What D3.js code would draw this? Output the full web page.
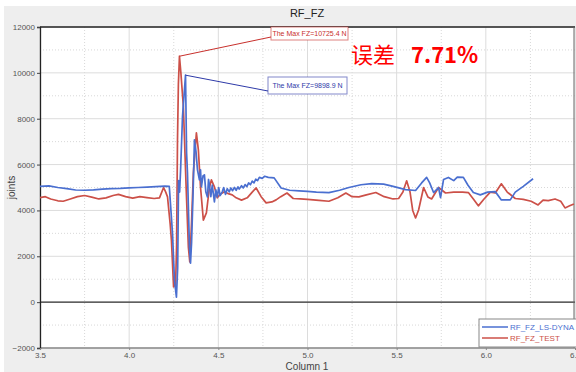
<!DOCTYPE html>
<html><head><meta charset="utf-8">
<script src="https://cdn.jsdelivr.net/npm/d3@7"></script>
<style>body{margin:0;background:#fff}svg{display:block}text{font-family:"Liberation Sans",Arial,sans-serif}</style>
</head><body><svg id="c" width="576" height="372"></svg>
<script>
const chartTitle = "RF_FZ";
const xLabel = "Column 1";
const yLabel = "joints";
const seriesNames = ["RF_FZ_LS-DYNA", "RF_FZ_TEST"];
const xTicks = [3.5, 4.0, 4.5, 5.0, 5.5, 6.0, 6.5];
const yTicks = [-2000, 0, 2000, 4000, 6000, 8000, 10000, 12000];
const maxLabels = ["The Max FZ=9898.9 N", "The Max FZ=10725.4 N"];
const errorWord = "误差";
const errorValue = "7.71%";

const dynaT = [3.50,3.55,3.60,3.65,3.70,3.75,3.80,3.85,3.90,3.95,4.00,4.05,4.10,4.15,4.20,4.225,4.243,4.254,4.265,4.272,4.277,4.283,4.288,4.293,4.299,4.316,4.322,4.327,4.338,4.344,4.350,4.355,4.360,4.366,4.375,4.383,4.394,4.400,4.405,4.414,4.422,4.430,4.439,4.445,4.450,4.458,4.466,4.478,4.486,4.494,4.502,4.510,4.522,4.530,4.540,4.550,4.561,4.570,4.58,4.59,4.60,4.61,4.617,4.63,4.64,4.65,4.66,4.67,4.68,4.69,4.70,4.71,4.72,4.73,4.746,4.76,4.78,4.813,4.852,4.90,4.953,5.00,5.05,5.12,5.18,5.232,5.30,5.36,5.427,5.48,5.55,5.606,5.640,5.668,5.685,5.707,5.735,5.746,5.763,5.79,5.82,5.84,5.874,5.90,5.930,5.969,6.01,6.053,6.087,6.137,6.165,6.21,6.265];
const dynaV = [5050,5070,5000,4950,4890,4880,4900,4930,4950,4960,4980,5000,5020,5040,5060,5050,3000,960,220,1500,5300,4800,5700,6770,8080,9898.9,6500,5630,2400,1700,2600,3900,5200,7080,6550,5770,5330,5770,5030,5500,5550,4800,4590,5350,5110,4600,5100,4370,4900,4590,5000,4650,4810,5000,4700,4950,4810,4980,4860,5000,4880,5030,4930,5080,4980,5130,5040,5200,5120,5280,5200,5360,5300,5440,5400,5490,5440,5420,4980,4880,4850,4830,4800,4780,4880,5000,5120,5170,5150,5050,4910,4870,5200,5440,5200,4780,4990,4560,5350,5440,5300,5450,5440,5100,4780,4680,4800,4820,4460,4460,4800,5050,5380];

const testT = [3.50,3.53,3.56,3.60,3.63,3.67,3.71,3.75,3.79,3.83,3.87,3.91,3.94,3.98,4.02,4.06,4.10,4.14,4.17,4.193,4.205,4.215,4.230,4.237,4.249,4.254,4.260,4.266,4.271,4.276,4.282,4.290,4.304,4.320,4.332,4.340,4.350,4.360,4.377,4.388,4.400,4.416,4.433,4.450,4.461,4.478,4.494,4.510,4.534,4.56,4.578,4.60,4.630,4.662,4.690,4.712,4.740,4.768,4.80,4.824,4.850,4.885,4.92,4.96,5.00,5.064,5.12,5.17,5.215,5.25,5.288,5.33,5.383,5.43,5.48,5.511,5.535,5.556,5.575,5.590,5.606,5.623,5.651,5.675,5.696,5.735,5.774,5.82,5.87,5.902,5.930,5.958,5.99,6.025,6.053,6.087,6.120,6.165,6.21,6.254,6.293,6.321,6.35,6.388,6.420,6.444,6.47,6.494];
const testV = [4560,4600,4500,4420,4400,4500,4600,4650,4580,4500,4550,4650,4700,4600,4540,4600,4560,4520,4550,5000,4800,4590,3400,2700,660,1100,660,2500,7080,9500,10725.4,10000,8520,4890,2400,1750,3500,5640,7385,6640,5030,3580,3890,5000,5330,5030,4550,4700,4810,4720,4680,4550,4450,4550,4800,4980,4600,4330,4370,4460,4600,4760,4520,4500,4480,4440,4400,4550,4760,4600,4590,4680,4780,4600,4500,4520,4800,5290,4800,4000,3670,4020,5000,4590,4500,5000,4760,4800,4800,4780,4500,4200,4500,4800,4760,5160,4800,4520,4480,4400,4240,4450,4430,4500,4400,4110,4200,4280];

const colors = ["#4a6fd0", "#cc5048"];
const annColors = ["#2e3aa8", "#c8302c"];

const svg = d3.select("#c");
const L = 40, R = 575, T = 27, B = 348;
const x = d3.scaleLinear().domain([3.5, 6.5]).range([L, R]);
const y = d3.scaleLinear().domain([-2000, 12000]).range([B, T]);

svg.append("rect").attr("x", 4).attr("y", 6).attr("width", 572).attr("height", 366).attr("fill", "#eeeeee");
svg.append("rect").attr("x", L).attr("y", T).attr("width", R - L).attr("height", B - T).attr("fill", "#ffffff");

// grid
const xMinor = xTicks.slice(0, -1).map(d => d + 0.25);
const yMinor = yTicks.slice(0, -1).map(d => d + 1000);
const g = svg.append("g");
g.selectAll(".xm").data(xMinor).join("line").attr("x1", d => x(d)).attr("x2", d => x(d)).attr("y1", T).attr("y2", B)
  .attr("stroke", "#d8d8d8").attr("stroke-dasharray", "1,2");
g.selectAll(".ym").data(yMinor).join("line").attr("x1", L).attr("x2", R).attr("y1", d => y(d)).attr("y2", d => y(d))
  .attr("stroke", "#d8d8d8").attr("stroke-dasharray", "1,2");
g.selectAll(".xM").data(xTicks).join("line").attr("x1", d => x(d)).attr("x2", d => x(d)).attr("y1", T).attr("y2", B)
  .attr("stroke", "#dcdcdc");
g.selectAll(".yM").data(yTicks).join("line").attr("x1", L).attr("x2", R).attr("y1", d => y(d)).attr("y2", d => y(d))
  .attr("stroke", "#dcdcdc");

// zero line
svg.append("line").attr("x1", L).attr("x2", R).attr("y1", y(0)).attr("y2", y(0)).attr("stroke", "#333").attr("stroke-width", 1.2);

// frame
svg.append("line").attr("x1", L).attr("x2", R).attr("y1", T).attr("y2", T).attr("stroke", "#222").attr("stroke-width", 1.3);
svg.append("line").attr("x1", R - 1).attr("x2", R - 1).attr("y1", T).attr("y2", B).attr("stroke", "#666");
svg.append("line").attr("x1", L).attr("x2", R).attr("y1", B).attr("y2", B).attr("stroke", "#888").attr("stroke-width", 1.5);

// axes
const ya = svg.append("g").attr("transform", `translate(${L},0)`)
  .call(d3.axisLeft(y).tickValues(yTicks).tickSize(3).tickPadding(2).tickFormat(d3.format("d")));
ya.select(".domain").attr("stroke", "#222").attr("stroke-width", 1.3);
ya.selectAll("text").attr("font-size", 8).attr("fill", "#555");
ya.selectAll(".tick line").attr("stroke", "#444");
const xa = svg.append("g").attr("transform", `translate(0,${B})`)
  .call(d3.axisBottom(x).tickValues(xTicks).tickSize(2).tickPadding(2).tickFormat(d3.format(".1f")));
xa.select(".domain").remove();
xa.selectAll("text").attr("font-size", 8).attr("fill", "#555");
xa.selectAll(".tick line").attr("stroke", "#888");

// series
const line = d3.line().x(d => x(d[0])).y(d => y(d[1]));
const dyna = dynaT.map((t, i) => [t, dynaV[i]]);
const test = testT.map((t, i) => [t, testV[i]]);
svg.append("path").datum(test).attr("d", line).attr("fill", "none").attr("stroke", colors[1]).attr("stroke-width", 1.7).attr("stroke-linejoin", "round");
svg.append("path").datum(dyna).attr("d", line).attr("fill", "none").attr("stroke", colors[0]).attr("stroke-width", 1.7).attr("stroke-linejoin", "round");

// annotations
const maxD = dyna.reduce((a, b) => b[1] > a[1] ? b : a);
const maxT = test.reduce((a, b) => b[1] > a[1] ? b : a);
const boxes = [
  {p: maxD, bx: 268, by: 77, bw: 79, bh: 17, c: annColors[0], txt: maxLabels[0]},
  {p: maxT, bx: 271, by: 27, bw: 77, bh: 13, c: annColors[1], txt: maxLabels[1]}
];
boxes.forEach(b => {
  svg.append("line").attr("x1", x(b.p[0])).attr("y1", y(b.p[1])).attr("x2", b.bx).attr("y2", b.by + b.bh - 3)
    .attr("stroke", b.c).attr("stroke-width", 1);
  svg.append("rect").attr("x", b.bx).attr("y", b.by).attr("width", b.bw).attr("height", b.bh)
    .attr("fill", "#fff").attr("stroke", b.c).attr("stroke-opacity", 0.6);
  svg.append("text").attr("x", b.bx + b.bw / 2).attr("y", b.by + b.bh / 2 + 2.5).attr("text-anchor", "middle")
    .attr("font-size", 7).attr("fill", b.c).text(b.txt);
});

// title & labels
svg.append("text").attr("x", 307).attr("y", 17).attr("text-anchor", "middle").attr("font-size", 11).attr("fill", "#222").text(chartTitle);
svg.append("text").attr("x", 307).attr("y", 370).attr("text-anchor", "middle").attr("font-size", 10).attr("fill", "#444").text(xLabel);
svg.append("text").attr("transform", `translate(15,${(T + B) / 2}) rotate(-90)`).attr("text-anchor", "middle")
  .attr("font-size", 10).attr("fill", "#444").text(yLabel);

// error note
svg.append("text").attr("x", 351).attr("y", 63).attr("font-size", 22).attr("fill", "#ff0000")
  .style("font-family", "'Noto Sans CJK SC',sans-serif").text(errorWord);
svg.append("text").attr("x", 411).attr("y", 63).attr("font-size", 22).attr("font-weight", "bold").attr("fill", "#ff0000")
  .style("font-family", "'Noto Sans CJK SC','Liberation Sans',sans-serif").text(errorValue);

// legend
const lg = svg.append("g");
lg.append("rect").attr("x", 479).attr("y", 319).attr("width", 100).attr("height", 28).attr("fill", "#fff").attr("stroke", "#888");
seriesNames.forEach((n, i) => {
  const yy = 327 + i * 11;
  lg.append("line").attr("x1", 482).attr("x2", 508).attr("y1", yy).attr("y2", yy).attr("stroke", colors[i]).attr("stroke-width", 1.5);
  lg.append("text").attr("x", 510).attr("y", yy + 3).attr("font-size", 8).attr("fill", colors[i]).text(n);
});
</script></body></html>
